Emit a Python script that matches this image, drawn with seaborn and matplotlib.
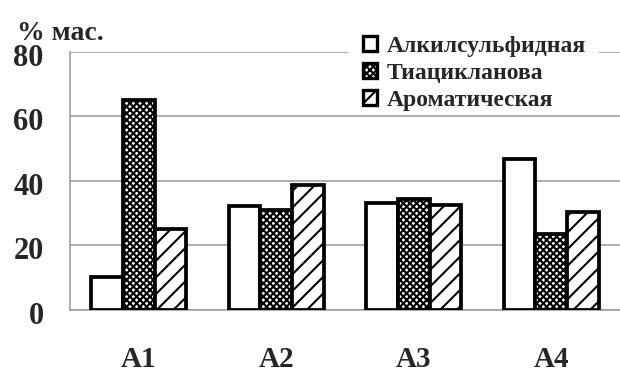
import numpy as np
import pandas as pd
import matplotlib
matplotlib.use("Agg")
import matplotlib.pyplot as plt
import matplotlib.patches as mpatches
import matplotlib.transforms as mtransforms
import seaborn as sns

# values
samples = ["A1", "A2", "A3", "A4"]
alkyl = [10.2, 32.2, 33.2, 46.6]
thia = [65.0, 31.1, 34.5, 23.6]
arom = [25.0, 38.6, 32.6, 30.3]
types = ["Алкилсульфидная", "Тиацикланова", "Ароматическая"]
hatches = ["", "xxxxx", "//"]

df = pd.DataFrame({
    "sample": samples * 3,
    "value": alkyl + thia + arom,
    "type": [types[0]] * 4 + [types[1]] * 4 + [types[2]] * 4,
})

sns.set_style("white")
plt.rcParams["font.family"] = ["Liberation Serif", "DejaVu Serif"]
plt.rcParams["font.weight"] = "bold"
plt.rcParams["hatch.linewidth"] = 1.5

fig = plt.figure(figsize=(6.2, 3.72), dpi=100)
ax = fig.add_axes([70 / 620, 62 / 372, 550 / 620, 258.5 / 372])

sns.barplot(
    data=df, x="sample", y="value", hue="type", hue_order=types,
    palette=["white"] * 3, edgecolor="black", linewidth=2.7,
    width=0.69, dodge=True, legend=False, ax=ax, zorder=3,
)
for cont, h in zip(ax.containers, hatches):
    for bar in cont:
        bar.set_hatch(h)

ax.set_xlim(-0.5, 3.5)
ax.set_ylim(0, 80)
ax.set_yticks([0, 20, 40, 60, 80])
ax.set_xlabel("")
ax.set_ylabel("")

grid_col = "#999999"
ax.yaxis.grid(True, color=grid_col, linewidth=1.1, zorder=0)
ax.set_axisbelow(True)
for side in ["top", "right"]:
    ax.spines[side].set_visible(False)
for side in ["left", "bottom"]:
    ax.spines[side].set_color(grid_col)
    ax.spines[side].set_linewidth(1.1)

ax.set_xticks([-0.5, 0.5, 1.5, 2.5, 3.5], minor=True)
ax.tick_params(axis="x", which="minor", length=7, width=1.1, color=grid_col)
ax.tick_params(axis="x", which="major", length=0, pad=26, labelsize=21)
ax.tick_params(axis="y", length=7, width=1.1, color=grid_col, pad=12, labelsize=22)

# the y labels sit a little below their gridlines in the reference
shift = mtransforms.ScaledTranslation(0, -3 / 100, fig.dpi_scale_trans)
for lab in ax.get_yticklabels():
    lab.set_transform(lab.get_transform() + shift)

fig.text(17 / 620, 1 - 40 / 372, "% мас.", fontsize=20, fontweight="bold",
         va="baseline")

# legend box hides the top gridline only
ax.add_patch(mpatches.Rectangle(
    (348 / 620, 1 - 60 / 372), 251 / 620, 16 / 372, transform=fig.transFigure,
    facecolor="white", edgecolor="none", clip_on=False, zorder=4))

handles = [mpatches.Patch(facecolor="white", edgecolor="black", linewidth=2.4, hatch=h)
           for h in hatches]
leg = ax.legend(
    handles, types, loc="upper left",
    bbox_to_anchor=(356 / 620, 1 - 29 / 372), bbox_transform=fig.transFigure,
    frameon=False,
    prop={"family": "Liberation Serif", "weight": "bold", "size": 17},
    handlelength=0.6, handleheight=0.6, handletextpad=0.42,
    labelspacing=0.25, borderpad=0.3, borderaxespad=0,
)
leg.set_zorder(5)

fig.savefig("out.png", dpi=100)
